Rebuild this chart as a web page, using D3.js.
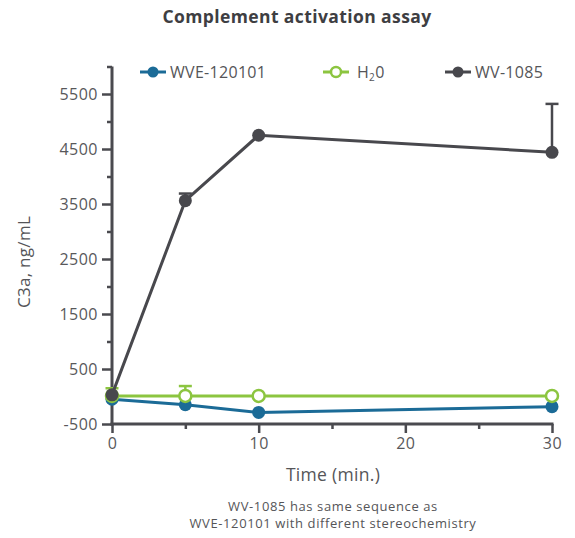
<!DOCTYPE html>
<html>
<head>
<meta charset="utf-8">
<script src="https://cdn.jsdelivr.net/npm/d3@7"></script>
<style>
  body { margin: 0; background: #fff; }
  svg { display: block; }
  text { font-family: "Open Sans", sans-serif; fill: #555558; }
</style>
</head>
<body>
<svg id="chart" width="575" height="538"></svg>
<script>
// time points (min.)
var times = [0, 5, 10, 30];

// C3a, ng/mL
var wve120101 = [-50, -150, -290, -185];
var h2o = [10, 10, 10, 10];
var h2oErrTop = [150, 190, null, null];
var wv1085 = [30, 3560, 4750, 4440];
var wv1085ErrTop = [null, 3690, null, 5320];

var yTicks = [-500, 500, 1500, 2500, 3500, 4500, 5500];
var yMinorTicks = [0, 1000, 2000, 3000, 4000, 5000, 6000];
var xTicks = [0, 10, 20, 30];
var xMinorTicks = [5, 15, 25];

var seriesNames = ['WVE-120101', 'H2O', 'WV-1085'];
var seriesColors = ['#1b6b97', '#8cc540', '#48484d'];

var svg = d3.select('#chart');
var axisColor = '#4a4a4f';

var x = d3.scaleLinear().domain([0, 30]).range([112, 552]);
var y = d3.scaleLinear().domain([-500, 6000]).range([424, 66.5]);

// title
svg.append('text')
    .attr('x', 297).attr('y', 23)
    .attr('text-anchor', 'middle')
    .style('font-size', '17.5px').style('font-weight', 700)
    .style('fill', '#3e3e42').style('letter-spacing', '0.4px')
    .text('Complement activation assay');

// axes
var yAxis = svg.append('g').attr('transform', 'translate(' + x(0) + ',0)')
    .call(d3.axisLeft(y).tickValues(yTicks).tickSize(10).tickPadding(4).tickFormat(function (d) { return String(d); }));
yAxis.append('g')
    .call(d3.axisLeft(y).tickValues(yMinorTicks).tickSize(5).tickFormat(''));

var xAxis = svg.append('g').attr('transform', 'translate(0,' + y(-500) + ')')
    .call(d3.axisBottom(x).tickValues(xTicks).tickSize(9).tickPadding(5));
xAxis.append('g')
    .call(d3.axisBottom(x).tickValues(xMinorTicks).tickSize(5).tickFormat(''));

svg.selectAll('.tick line').attr('stroke', axisColor).attr('stroke-width', 2.5);
svg.selectAll('.tick text').style('font-size', '16px').style('letter-spacing', '0.5px').style('fill', '#58585b');

// clean axis lines (no end caps)
svg.selectAll('.domain').remove();
svg.append('line').attr('x1', x(0)).attr('x2', x(0)).attr('y1', y(6000)).attr('y2', y(-500) + 1.5)
    .attr('stroke', axisColor).attr('stroke-width', 3);
svg.append('line').attr('x1', x(0) - 1.5).attr('x2', x(30) + 1.5).attr('y1', y(-500)).attr('y2', y(-500))
    .attr('stroke', axisColor).attr('stroke-width', 3);

// axis labels
svg.append('text')
    .attr('transform', 'translate(30,262) rotate(-90)')
    .attr('text-anchor', 'middle')
    .style('font-size', '17px').style('letter-spacing', '0.3px')
    .text('C3a, ng/mL');

svg.append('text')
    .attr('x', 333).attr('y', 481)
    .attr('text-anchor', 'middle')
    .style('font-size', '17.5px').style('letter-spacing', '0.3px')
    .text('Time (min.)');

svg.append('text')
    .attr('x', 333).attr('y', 511)
    .attr('text-anchor', 'middle')
    .style('font-size', '13px').style('letter-spacing', '0.6px')
    .text('WV-1085 has same sequence as');
svg.append('text')
    .attr('x', 333).attr('y', 528)
    .attr('text-anchor', 'middle')
    .style('font-size', '13px').style('letter-spacing', '0.6px')
    .text('WVE-120101 with different stereochemistry');

// series
var line = d3.line()
    .x(function (d, i) { return x(times[i]); })
    .y(function (d) { return y(d); });

function drawErrors(errTop, vals, color) {
    times.forEach(function (t, i) {
        if (errTop[i] == null) return;
        svg.append('line')
            .attr('x1', x(t)).attr('x2', x(t))
            .attr('y1', y(vals[i])).attr('y2', y(errTop[i]))
            .attr('stroke', color).attr('stroke-width', 2.5);
        svg.append('line')
            .attr('x1', x(t) - 6.5).attr('x2', x(t) + 6.5)
            .attr('y1', y(errTop[i])).attr('y2', y(errTop[i]))
            .attr('stroke', color).attr('stroke-width', 2.5);
    });
}

function drawSeries(vals, color, open) {
    svg.append('path')
        .datum(vals)
        .attr('d', line)
        .attr('fill', 'none')
        .attr('stroke', color)
        .attr('stroke-width', 3);
    svg.append('g').selectAll('circle')
        .data(vals)
        .enter()
        .append('circle')
        .attr('cx', function (d, i) { return x(times[i]); })
        .attr('cy', function (d) { return y(d); })
        .attr('r', open ? 6 : 6.5)
        .attr('fill', open ? '#fff' : color)
        .attr('stroke', color)
        .attr('stroke-width', open ? 2.5 : 0);
}

drawSeries(wve120101, seriesColors[0], false);
drawErrors(h2oErrTop, h2o, seriesColors[1]);
drawSeries(h2o, seriesColors[1], true);
drawErrors(wv1085ErrTop, wv1085, seriesColors[2]);
drawSeries(wv1085, seriesColors[2], false);

// legend
var legendX = [140, 323, 445];
var legend = svg.append('g');
seriesNames.forEach(function (name, i) {
    var g = legend.append('g').attr('transform', 'translate(' + legendX[i] + ',72)');
    var open = i === 1;
    g.append('line').attr('x1', 0).attr('x2', 26).attr('y1', 0).attr('y2', 0)
        .attr('stroke', seriesColors[i]).attr('stroke-width', 3);
    g.append('circle').attr('cx', 13).attr('cy', 0).attr('r', open ? 5 : 5.5)
        .attr('fill', open ? '#fff' : seriesColors[i])
        .attr('stroke', seriesColors[i]).attr('stroke-width', open ? 2.5 : 0);
    var t = g.append('text').attr('x', open ? 34 : 30).attr('y', 5.5)
        .style('font-size', '16px').style('letter-spacing', '0.3px');
    if (name === 'H2O') {
        t.append('tspan').text('H');
        t.append('tspan').attr('dy', 3).style('font-size', '10px').text('2');
        t.append('tspan').attr('dy', -3).text('0');
    } else {
        t.text(name);
    }
});
</script>
</body>
</html>
